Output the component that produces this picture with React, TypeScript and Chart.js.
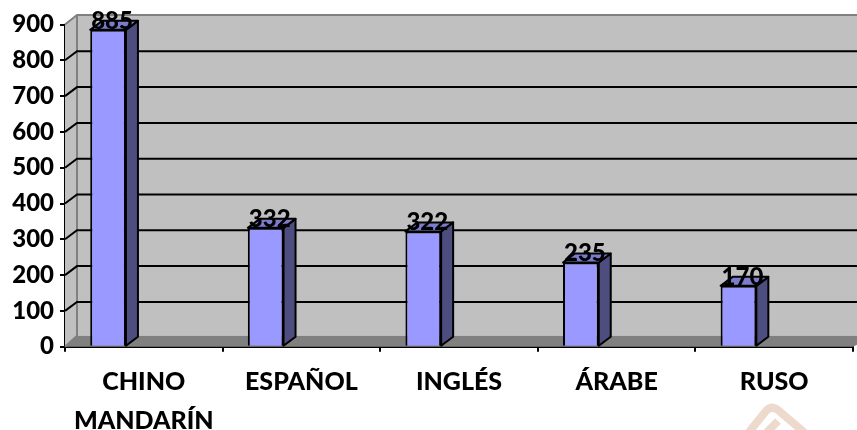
import React, { useEffect, useRef } from "react";
import { Chart, registerables, Plugin } from "chart.js";

Chart.register(...registerables);

const categories: (string | string[])[] = [["CHINO", "MANDARÍN"], "ESPAÑOL", "INGLÉS", "ÁRABE", "RUSO"];
const speakers = [885, 332, 322, 235, 170];
const FONT = "Lato, Carlito, sans-serif";
const DX = 12;
const DY = 9;
const LW = 2;

const poly = (ctx: CanvasRenderingContext2D, pts: number[][], fill?: string, stroke?: string, lw = LW) => {
  ctx.beginPath();
  pts.forEach(([x, y], i) => (i ? ctx.lineTo(x, y) : ctx.moveTo(x, y)));
  ctx.closePath();
  if (fill) {
    ctx.fillStyle = fill;
    ctx.fill();
  }
  if (stroke) {
    ctx.strokeStyle = stroke;
    ctx.lineWidth = lw;
    ctx.lineJoin = "round";
    ctx.stroke();
  }
};

const walls: Plugin<"bar"> = {
  id: "walls",
  beforeDraw(chart) {
    const { ctx } = chart;
    ctx.save();
    ctx.strokeStyle = "#EEDACD";
    ctx.lineWidth = 8;
    ctx.lineCap = "butt";
    ctx.lineJoin = "round";
    ctx.beginPath();
    ctx.moveTo(749, 432);
    ctx.lineTo(766, 411);
    ctx.quadraticCurveTo(771, 405, 778, 410);
    ctx.lineTo(806, 434);
    ctx.moveTo(767, 432);
    ctx.lineTo(778, 421);
    ctx.stroke();
    ctx.restore();
  },
  beforeDatasetsDraw(chart) {
    const { ctx, chartArea: a, scales } = chart;
    const y = scales.y;
    const top = y.getPixelForValue(900);
    const base = y.getPixelForValue(0);
    const right = chart.width + 20;
    ctx.save();
    poly(ctx, [[a.left + DX, top - DY - 0.5], [right, top - DY - 0.5], [right, base - 11], [a.left + DX, base - 11]], "#C0C0C0");
    poly(ctx, [[a.left, top], [a.left + DX, top - DY - 0.5], [a.left + DX, base - 11], [a.left, base]], "#C0C0C0");
    poly(ctx, [[a.left, base], [a.left + DX, base - 11], [right, base - 11], [a.right, base]], "#808080");
    ctx.lineWidth = LW;
    ctx.strokeStyle = "#808080";
    ctx.beginPath();
    ctx.moveTo(a.left, top);
    ctx.lineTo(a.left + DX, top - DY - 0.5);
    ctx.lineTo(right, top - DY - 0.5);
    ctx.moveTo(a.left + DX, top - DY - 0.5);
    ctx.lineTo(a.left + DX, base - 11);
    ctx.lineTo(a.left, base);
    ctx.stroke();
    ctx.strokeStyle = "#000";
    y.ticks.forEach((t) => {
      if (t.value === 0 || t.value === 900) return;
      const p = y.getPixelForValue(t.value);
      ctx.beginPath();
      ctx.moveTo(a.left, p);
      ctx.lineTo(a.left + DX, p - DY);
      ctx.lineTo(right, p - DY);
      ctx.stroke();
    });
    ctx.restore();
  },
  afterDatasetsDraw(chart) {
    const { ctx } = chart;
    const meta = chart.getDatasetMeta(0);
    ctx.save();
    meta.data.forEach((bar: any, i: number) => {
      const half = bar.width / 2;
      const l = bar.x - half;
      const r = bar.x + half;
      const t = bar.y;
      const b = bar.base;
      poly(ctx, [[r, t], [r + DX, t - DY], [r + DX, b - DY], [r, b]], "#4D4D80", "#000");
      poly(ctx, [[l, t], [l + DX, t - DY], [r + DX, t - DY], [r, t]], "#7C7CCE", "#000");
      ctx.fillStyle = "#000";
      ctx.font = `900 24px ${FONT}`;
      ctx.textAlign = "center";
      ctx.textBaseline = "middle";
      ctx.fillText(String(speakers[i]), bar.x + 4, t - 9);
    });
    ctx.restore();
  },
};

export default function App() {
  const ref = useRef<HTMLCanvasElement>(null);
  useEffect(() => {
    const chart = new Chart(ref.current!, {
      type: "bar",
      data: {
        labels: categories as any,
        datasets: [
          {
            data: speakers,
            backgroundColor: "#9999FF",
            borderColor: "#000",
            borderWidth: LW,
            barPercentage: 1,
            categoryPercentage: 0.68,
          },
          { data: [], barPercentage: 1, categoryPercentage: 0.68 },
          { data: [], barPercentage: 1, categoryPercentage: 0.68 },
        ],
      },
      options: {
        animation: false,
        responsive: false,
        devicePixelRatio: 1,
        layout: { padding: { top: 24.5, right: 4, left: 0, bottom: 0 } },
        plugins: { legend: { display: false }, tooltip: { enabled: false } },
        scales: {
          x: {
            afterFit: (s: any) => {
              s.height = 83.3;
            },
            border: { color: "#000", width: 2 },
            grid: { drawOnChartArea: false, drawTicks: true, tickLength: 5, color: "#000", lineWidth: LW },
            ticks: {
              color: "#000",
              padding: 11,
              maxRotation: 0,
              autoSkip: false,
              font: { family: FONT, size: 25, weight: "900", lineHeight: 39 / 25 },
            },
          },
          y: {
            min: 0,
            max: 900,
            afterFit: (s: any) => {
              s.width = 65;
            },
            border: { color: "#000", width: 2 },
            grid: { drawOnChartArea: false, drawTicks: true, tickLength: 5, color: "#000", lineWidth: LW },
            ticks: {
              stepSize: 100,
              color: "#000",
              padding: 6,
              font: { family: FONT, size: 24, weight: "900" },
            },
          },
        },
      },
      plugins: [walls],
    });
    return () => chart.destroy();
  }, []);
  return (
    <div style={{ position: "fixed", left: 0, top: 0, width: 857, height: 430, background: "#fff" }}>
      <canvas ref={ref} width={857} height={430} style={{ display: "block" }} />
    </div>
  );
}
